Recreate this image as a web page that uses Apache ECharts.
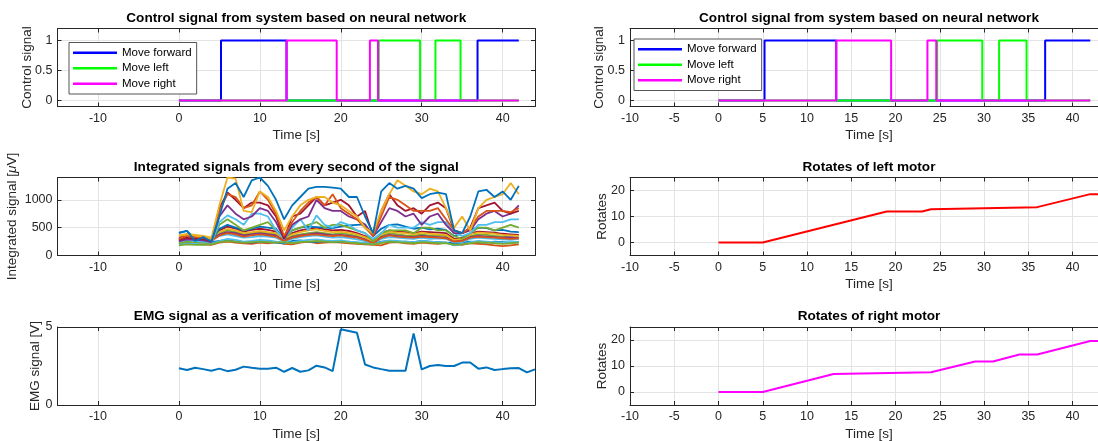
<!DOCTYPE html>
<html><head><meta charset="utf-8">
<script src="https://cdn.jsdelivr.net/npm/echarts@6/dist/echarts.min.js"></script>
<style>html,body{margin:0;padding:0;background:#fff}#c{width:1098px;height:441px}</style>
</head><body><div id="c"></div><script>
// ---------- DATA ----------
const ctrlTitle = 'Control signal from system based on neural network';
const intTitle = 'Integrated signals from every second of the signal';
const emgTitle = 'EMG signal as a verification of movement imagery';
const leftMotorTitle = 'Rotates of left motor';
const rightMotorTitle = 'Rotates of right motor';
const timeLabel = 'Time [s]';
const legendNames = ['Move forward', 'Move left', 'Move right'];

const forwardT = [0, 5.2, 13.3, 36.9, 42];
const forwardV = [0, 1, 0, 1, 1];
const leftT = [0, 24.7, 29.8, 31.7, 34.8, 42];
const leftV = [0, 1, 0, 1, 0, 0];
const rightT = [0, 13.3, 19.5, 23.6, 24.6, 42];
const rightV = [0, 1, 0, 1, 0, 0];

const intT = [0,1,2,3,4,5,6,7,8,9,10,11,12,13,14,15,16,17,18,19,20,21,22,23,24,25,26,27,28,29,30,31,32,33,34,35,36,37,38,39,40,41,42];
const int01 = [220,230,210,200,190, 230,250,230,220,210, 230,220,240,210,200, 230,250,220,230,240, 230,220,210,200,190, 180,230,240,220,210, 230,220,210,230,200, 190,220,210,200,180, 170,180,200];
const int02 = [260,280,250,260,240, 260,280,250,240,230, 250,240,230,220,260, 270,250,240,260,250, 240,250,230,220,210, 250,260,240,250,240, 260,250,240,230,220, 230,250,240,230,250, 240,230,240];
const int03 = [300,320,290,300,270, 350,380,350,320,330, 350,340,320,250,300, 330,350,360,340,320, 330,310,290,260,220, 300,330,320,310,300, 320,300,310,300,230, 240,300,320,310,300, 290,280,300];
const int04 = [280,300,290,280,260, 400,450,420,380,400, 420,400,380,280,350, 380,400,420,400,380, 400,380,350,300,220, 350,400,380,360,350, 380,350,360,350,260, 270,350,380,370,350, 340,360,350];
const int05 = [330,350,320,320,280, 450,520,480,430,460, 480,460,430,290,400, 450,480,500,470,450, 460,440,400,350,260, 400,450,430,420,400, 430,420,410,400,300, 320,400,430,420,410, 390,380,370];
const int06 = [310,330,300,310,270, 380,420,400,360,380, 400,380,360,270,330, 360,380,400,380,360, 370,350,330,290,230, 330,370,350,340,330, 350,340,330,320,260, 270,330,350,340,330, 320,330,320];
const int07 = [360,390,370,350,320, 420,480,450,400,420, 440,420,400,300,380, 420,450,470,440,420, 430,410,380,330,250, 380,430,410,400,380, 410,390,380,370,280, 300,380,410,400,390, 370,360,350];
const int08 = [410,440,300,330,250, 480,550,500,450,480, 520,500,480,300,450, 500,520,510,500,490, 520,540,550,560,350, 480,550,560,520,480, 500,470,480,460,350, 400,470,500,490,450, 460,430,420];
const int09 = [300,320,300,290,260, 360,400,380,340,360, 380,360,340,260,320, 350,370,380,360,350, 360,340,320,280,220, 320,360,340,330,320, 340,330,320,310,250, 260,320,340,330,320, 310,300,310];
const int10 = [200,220,210,200,210, 260,300,280,250,260, 280,270,250,230,240, 260,280,290,270,260, 270,250,240,220,200, 240,270,260,250,240, 260,250,240,230,180, 200,240,260,250,240, 230,240,250];
const int11 = [180,200,190,190,200, 240,260,250,230,240, 250,240,230,240,220, 240,250,260,250,240, 250,230,220,210,200, 220,250,240,230,220, 240,230,220,220,190, 200,220,240,230,220, 210,220,230];
const int12 = [220,250,240,230,220, 550,650,550,450,500, 550,600,450,300,450, 500,550,600,500,550, 550,500,450,400,250, 400,450,450,450,400, 500,500,450,450,350, 300,400,500,500,450, 500,550,500];
const int13 = [250,280,260,250,230, 600,720,650,550,750, 750,700,450,300,500, 650,450,720,550,500, 600,550,450,400,300, 400,550,500,500,500, 600,550,600,600,400, 350,400,550,550,600, 600,650,650];
const int14 = [260,290,280,270,240, 700,900,750,650,700, 850,800,600,300,550, 650,700,1000,850,800, 800,700,650,550,350, 600,850,800,700,750, 550,700,750,550,400, 400,450,650,750,800, 700,750,900];
const int15 = [280,320,300,300,260, 850,1130,1000,850,950, 950,900,700,300,700, 750,900,1050,900,950, 1000,900,700,800,350, 800,1100,900,800,850, 750,900,950,850,450, 400,500,850,900,950, 800,750,800];
const int16 = [300,350,330,320,280, 800,1100,1050,850,900, 1150,1000,750,350,600, 800,950,1050,900,1100, 850,750,650,500,350, 700,1050,1000,900,800, 800,800,850,650,450, 400,500,700,800,800, 800,780,850];
const int17 = [350,380,360,340,300, 900,1400,1380,800,780, 1150,1050,800,450,700, 900,1000,1050,1050,950, 900,800,700,500,400, 800,1100,1350,1250,1150, 1100,1200,1150,850,500, 700,450,850,1000,1050, 1100,1300,1100];
const int18 = [400,440,260,330,250, 700,1200,1300,1050,1350, 1400,1250,1000,650,900, 1050,1200,1230,1230,1220, 1200,1050,1050,700,400, 1150,1300,1200,1250,1200, 1030,1100,1130,1100,450, 400,700,1150,1180,1050, 1150,1000,1250];
const intValues = [int01,int02,int03,int04,int05,int06,int07,int08,int09,int10,int11,int12,int13,int14,int15,int16,int17,int18];
const intColors = ['#D95319','#0072BD','#4DBEEE','#77AC30','#A2142F','#7E2F8E','#EDB120','#0072BD','#D95319','#4DBEEE','#77AC30','#77AC30','#4DBEEE','#7E2F8E','#A2142F','#D95319','#EDB120','#0072BD'];

const emgT = [0,1,2,3,4,5,6,7,8,9,10,11,12,13,14,15,16,17,18,19,20,21,22,23,24,25,26,27,28,29,30,31,32,33,34,35,36,37,38,39,40,41,42,43,44];
const emgV = [2.35,2.24,2.39,2.3,2.2, 2.33,2.17,2.26,2.46,2.39, 2.33,2.33,2.39,2.13,2.37, 2.13,2.22,2.52,2.41,2.17, 4.85,4.74,4.63,2.6,2.41, 2.3,2.2,2.2,2.2,4.59, 2.28,2.5,2.57,2.5,2.5, 2.72,2.72,2.33,2.41,2.24, 2.3,2.35,2.37,2.09,2.28];

const leftMotorT = [0, 5, 19, 23, 24, 36, 42, 44];
const leftMotorV = [0, 0, 11.9, 11.9, 12.8, 13.6, 18.6, 18.6];
const rightMotorT = [0, 5, 13, 24, 29, 31, 34, 36, 42, 44];
const rightMotorV = [0, 0, 6.9, 7.6, 11.7, 11.7, 14.4, 14.4, 19.6, 19.6];

const xTicksLeft = [-10, 0, 10, 20, 30, 40];
const xTicksRight = [-10, -5, 0, 5, 10, 15, 20, 25, 30, 35, 40];
const ctrlTicks = [0, 0.5, 1];
const intTicks = [0, 500, 1000];
const emgTicks = [0, 5];
const motorTicks = [0, 10, 20];

// ---------- LAYOUT / STYLE ----------
const FONT = '"Liberation Sans", Arial, Helvetica, sans-serif';
const AX = '#262626';
const GRIDC = '#e3e3e3';
const TICKFS = 12.5, NAMEFS = 13.5, TITLEFS = 13.6;
const cols = [
  {left: 57.5, width: 477.5, min: -15, max: 44, ticks: xTicksLeft},
  {left: 630, width: 478, min: -10, max: 44, ticks: xTicksRight}
];
const rowTops = [28.5, 177.5, 327];
const rowH = 78;

const panels = [
  {col:0,row:0,title:ctrlTitle,yName:'Control signal',yMin:-0.1,yMax:1.2,yTicks:ctrlTicks,yGap:23},
  {col:0,row:1,title:intTitle,yName:'Integrated signal [{i|μ}V]',yMin:0,yMax:1400,yTicks:intTicks,yGap:38},
  {col:0,row:2,title:emgTitle,yName:'EMG signal [V]',yMin:0,yMax:5,yTicks:emgTicks,yGap:15},
  {col:1,row:0,title:ctrlTitle,yName:'Control signal',yMin:-0.1,yMax:1.2,yTicks:ctrlTicks,yGap:24},
  {col:1,row:1,title:leftMotorTitle,yName:'Rotates',yMin:-5,yMax:25,yTicks:motorTicks,yGap:21},
  {col:1,row:2,title:rightMotorTitle,yName:'Rotates',yMin:-5,yMax:25,yTicks:motorTicks,yGap:21}
];

const fmt = v => String(v);
const grid = [], xAxis = [], yAxis = [], series = [];
const lineAx = {show:true, onZero:false, lineStyle:{color:AX, width:1}};
panels.forEach((p, g) => {
  const c = cols[p.col];
  grid.push({left:c.left, top:rowTops[p.row], width:c.width, height:rowH, containLabel:false, outerBoundsMode:'none', show:false});
  xAxis.push({
    type:'value', gridIndex:g, position:'bottom', min:c.min, max:c.max,
    axisLine:lineAx,
    axisTick:{show:true, inside:true, length:4, customValues:c.ticks, lineStyle:{color:AX}},
    axisLabel:{show:true, customValues:c.ticks, formatter:fmt, margin:5.5, fontSize:TICKFS, color:AX, fontFamily:FONT},
    splitLine:{show:true, lineStyle:{color:GRIDC, width:1}},
    name:timeLabel, nameLocation:'middle', nameGap:22, nameMoveOverlap:false,
    nameTextStyle:{fontSize:NAMEFS, color:AX, fontFamily:FONT}
  });
  xAxis.push({
    type:'value', gridIndex:g, position:'top', min:c.min, max:c.max,
    axisLine:lineAx,
    axisTick:{show:true, inside:true, length:4, customValues:c.ticks, lineStyle:{color:AX}},
    axisLabel:{show:false}, splitLine:{show:false},
    name:p.title, nameLocation:'middle', nameGap:3.5, nameMoveOverlap:false,
    nameTextStyle:{fontSize:TITLEFS, fontWeight:'bold', color:'#000', fontFamily:FONT}
  });
  yAxis.push({
    type:'value', gridIndex:g, position:'left', min:p.yMin, max:p.yMax,
    axisLine:lineAx,
    axisTick:{show:true, inside:true, length:4, customValues:p.yTicks, lineStyle:{color:AX}},
    axisLabel:{show:true, customValues:p.yTicks, formatter:fmt, margin:5, fontSize:TICKFS, color:AX, fontFamily:FONT},
    splitLine:{show:true, lineStyle:{color:GRIDC, width:1}},
    name:p.yName, nameLocation:'middle', nameGap:p.yGap, nameMoveOverlap:false,
    nameTextStyle:{fontSize:NAMEFS, color:AX, fontFamily:FONT,
      rich:{i:{fontStyle:'italic', fontSize:NAMEFS, color:AX, fontFamily:FONT}}}
  });
  yAxis.push({
    type:'value', gridIndex:g, position:'right', min:p.yMin, max:p.yMax,
    axisLine:lineAx,
    axisTick:{show:true, inside:true, length:4, customValues:p.yTicks, lineStyle:{color:AX}},
    axisLabel:{show:false}, splitLine:{show:false}
  });
});

function addLine(g, name, T, V, color, width, step) {
  series.push({
    type:'line', name:name, xAxisIndex:2*g, yAxisIndex:2*g,
    data:T.map((t, i) => [t, V[i]]),
    symbol:'none', showSymbol:false, step:step || false,
    lineStyle:{color:color, width:width}, itemStyle:{color:color},
    animation:false, silent:true, clip:true
  });
}
[0, 3].forEach(g => {
  addLine(g, 'Move forward', forwardT, forwardV, '#0000FF', 2, 'end');
  addLine(g, 'Move left', leftT, leftV, '#00FF00', 2, 'end');
  addLine(g, 'Move right', rightT, rightV, '#FF00FF', 2, 'end');
});
intValues.forEach((v, k) => addLine(1, 'ch' + (k + 1), intT, v, intColors[k], 1.8));
addLine(2, 'EMG', emgT, emgV, '#0072BD', 2);
addLine(4, 'Left motor', leftMotorT, leftMotorV, '#FF0000', 2);
addLine(5, 'Right motor', rightMotorT, rightMotorV, '#FF00FF', 2);

function mkLegend(left, top) {
  return {
    data:legendNames, orient:'vertical', left:left, top:top,
    icon:'rect', itemWidth:44, itemHeight:2.5, itemGap:0,
    padding:[2.5, 5, 2.5, 4], borderColor:'#555', borderWidth:1, backgroundColor:'#fff',
    selectedMode:false,
    textStyle:{fontSize:11.5, color:'#000', fontFamily:FONT, lineHeight:15.5}
  };
}

const chart = echarts.init(document.getElementById('c'), null, {renderer:'canvas'});
chart.setOption({
  backgroundColor:'#fff', animation:false,
  grid, xAxis, yAxis, series,
  legend:[mkLegend(69, 42.5), mkLegend(634, 39)]
});
</script></body></html>
